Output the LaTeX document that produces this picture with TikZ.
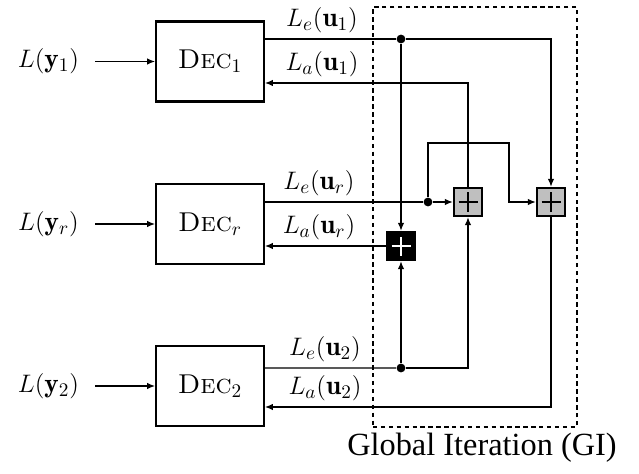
\documentclass[tikz,border=0pt]{standalone}
\usepackage{fontspec}
\newfontfamily\gifont{Liberation Serif}
\usetikzlibrary{arrows.meta,positioning}

\tikzset{
  decbox/.style={draw, line width=1.3pt, minimum width=2.15cm, minimum height=1.6cm},
  adder/.style={draw, line width=1.3pt, minimum size=0.56cm, inner sep=0pt,
    path picture={\draw[line width=1.2pt, #1]
      ([xshift=-0.19cm]path picture bounding box.center) -- ([xshift=0.19cm]path picture bounding box.center)
      ([yshift=-0.19cm]path picture bounding box.center) -- ([yshift=0.19cm]path picture bounding box.center);}},
  adder/.default=black,
  junc/.style={circle, fill, inner sep=0pt, minimum size=5pt},
  llr/.style={inner sep=3pt, anchor=south}
}

\begin{document}
\begin{tikzpicture}[font=\fontsize{15.5}{18}\selectfont, line width=0.7pt,
  >={Latex[length=4.5pt,width=3.6pt]}]

\useasboundingbox (0,0) rectangle (12.78,9.46);

% ==== Decoders and inputs ====
\foreach \name/\y in {1/8.23, r/4.98, 2/1.74} {
  \node[decbox] (dec\name) at (4.2,\y) {\textsc{Dec}$_{\name}$};
  \node (in\name) at (0.97,\y) {$L(\mathbf{y}_{\name})$};
  \draw[->, shorten <=0.2cm] (in\name.east) -- (dec\name.west);
}

% ==== Global iteration box ====
\node[draw, dashed, dash pattern=on 2.5pt off 2pt, line width=0.6pt,
      minimum width=4.08cm, minimum height=8.4cm] (gibox) at (9.5,5.12) {};
\node[font=\gifont\fontsize{18.4}{20}\selectfont] (gi) at (9.64,0.5) {Global Iteration (GI)};

% ==== Adders and junctions ====
\node[adder=white, fill=black] (addr) at (8.02,4.54) {};
\node[adder, fill=gray!50] (adda) at (9.36,5.42) {};
\node[adder, fill=gray!50] (addb) at (11.02,5.42) {};

\node[junc] (j1) at (8.02,8.68) {};
\node[junc] (jr) at (8.56,5.42) {};
\node[junc] (j2) at (8.02,2.10) {};
\coordinate (loop) at (10.18,6.6);

% ==== Decoder 1 ====
\draw ([yshift=0.45cm]dec1.east) -- (j1);
\draw[->] (j1) -| (addb.north);
\draw[->] (j1) -- (addr.north);
\draw[->] (adda.north) |- ([yshift=-0.43cm]dec1.east);

% ==== Decoder r ====
\draw ([yshift=0.44cm]decr.east) -- (jr);
\draw[->] (jr) -- (adda.west);
\draw[->] (jr) |- (loop) |- (addb.west);
\draw[->] (addr.west) -- ([yshift=-0.44cm]decr.east);

% ==== Decoder 2 ====
\draw ([yshift=0.36cm]dec2.east) -- (j2);
\draw[->] (j2) -| (adda.south);
\draw[->] (j2) -- (addr.south);
\draw[->] (addb.south) |- ([yshift=-0.42cm]dec2.east);

% ==== Labels ====
\node[llr] (le1) at (6.44,8.68) {$L_e(\mathbf{u}_1)$};
\node[llr] (la1) at (6.44,7.80) {$L_a(\mathbf{u}_1)$};
\node[llr] (ler) at (6.38,5.42) {$L_e(\mathbf{u}_r)$};
\node[llr] (lar) at (6.38,4.54) {$L_a(\mathbf{u}_r)$};
\node[llr] (le2) at (6.50,2.10) {$L_e(\mathbf{u}_2)$};
\node[llr] (la2) at (6.50,1.32) {$L_a(\mathbf{u}_2)$};

\end{tikzpicture}
\end{document}
